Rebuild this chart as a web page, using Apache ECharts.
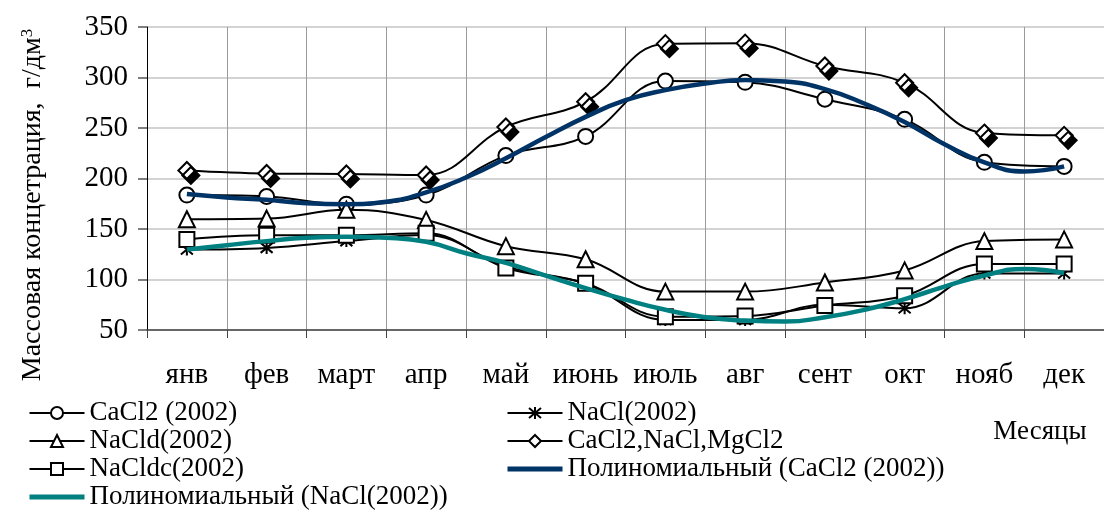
<!DOCTYPE html>
<html>
<head>
<meta charset="utf-8">
<script src="https://cdn.jsdelivr.net/npm/echarts@6/dist/echarts.min.js"></script>
<style>
html,body{margin:0;padding:0;background:#fff;}
#chart{width:1104px;height:512px;}
</style>
</head>
<body>
<div id="chart"></div>
<script>
// ---- data ----
const months = ['янв','фев','март','апр','май','июнь','июль','авг','сент','окт','нояб','дек'];
const yTicks = [50, 100, 150, 200, 250, 300, 350];

const cacl2_2002 = [183.6, 182.2, 174.6, 183.6, 222.7, 241.7, 296.5, 295.2, 278.5, 258.6, 216, 212];
const nacl_2002 = [129.7, 131.3, 138, 144, 113, 96, 60, 60, 75, 71.5, 106, 106];
const nacld_2002 = [159.6, 160.3, 169, 159, 133, 120, 88, 88, 97, 109, 138, 139.7];
const mixed = [208, 205, 204.5, 203.5, 251, 276, 333.5, 334, 311.4, 294.8, 245, 242.7];
const nacldc_2002 = [139.7, 143.7, 143.7, 145.7, 111.4, 96.4, 63.2, 63.9, 74.2, 83.9, 115.4, 115.4];

// trend lines read at half-month steps (position in months, value)
const trendPos = [0,0.5,1,1.5,2,2.5,3,3.5,4,4.5,5,5.5,6,6.5,7,7.5,8,8.5,9,9.5,10,10.5,11];
const trendCaCl2 = [184.6,181.2,178.9,175.6,174.6,177,186.2,201,220,241,261,277.5,287.5,294,297.5,296,288.5,274,256,234,216,207,212];
const trendNaCl = [129.7,134,138,141.3,142.3,141.3,137.3,126,116.4,103.8,91.4,80,70,62.6,59.3,58.3,62.6,70,80.5,93,104,110.4,106.4];

const names = {
  cacl2: 'CaCl2 (2002)',
  nacl: 'NaCl(2002)',
  nacld: 'NaCld(2002)',
  mixed: 'CaCl2,NaCl,MgCl2',
  nacldc: 'NaCldc(2002)',
  polyCa: 'Полиномиальный (CaCl2 (2002))',
  polyNa: 'Полиномиальный (NaCl(2002))'
};

const FONT = '"Liberation Serif", "Times New Roman", serif';
const chart = echarts.init(document.getElementById('chart'), null, {renderer: 'canvas'});

function pairs(xs, ys) { return xs.map((x, i) => [x, ys[i]]); }

const starPath = 'path://M0,0L10,10M10,0L0,10M5,-1L5,11';
const hiddenSymbol = {color: 'rgba(0,0,0,0)', borderColor: 'rgba(0,0,0,0)', borderWidth: 0, opacity: 0};

function dataSeries(name, data, symbol, size, extra) {
  return Object.assign({
    name: name,
    type: 'line',
    data: data,
    smooth: 0.4,
    symbol: symbol,
    symbolSize: size,
    showAllSymbol: true,
    lineStyle: {color: '#000', width: 2},
    itemStyle: {color: '#fff', borderColor: '#000', borderWidth: 2},
    z: 3
  }, extra || {});
}

const legendText = {color: '#000', fontSize: 27, fontFamily: FONT, lineHeight: 28};

const option = {
  animation: false,
  backgroundColor: '#fff',
  textStyle: {fontFamily: FONT},
  grid: {left: 147, top: 27, width: 960, height: 303, containLabel: false},
  xAxis: [{
    type: 'category',
    data: months,
    boundaryGap: true,
    axisLine: {show: true, onZero: false, lineStyle: {color: '#444', width: 1.5}},
    axisTick: {show: true, length: 8, lineStyle: {color: '#444', width: 1}},
    axisLabel: {color: '#000', fontSize: 29, fontFamily: FONT, margin: 31, interval: 0},
    splitLine: {show: true, lineStyle: {color: '#9a9a9a', width: 1}}
  }, {
    type: 'value',
    min: -0.5,
    max: 11.5,
    show: false,
    axisLine: {onZero: false},
    splitLine: {show: false}
  }],
  yAxis: {
    type: 'value',
    min: yTicks[0],
    max: yTicks[yTicks.length - 1],
    interval: 50,
    axisLine: {show: true, onZero: false, lineStyle: {color: '#000', width: 1}},
    axisTick: {show: true, length: 9, lineStyle: {color: '#555', width: 1.5}},
    axisLabel: {color: '#000', fontSize: 29, fontFamily: FONT, margin: 19},
    splitLine: {show: true, lineStyle: {color: '#c4c4c4', width: 1.5}}
  },
  legend: [{
    orient: 'vertical',
    left: 27,
    top: 399,
    padding: 0,
    itemGap: 0,
    itemWidth: 55,
    itemHeight: 15,
    textStyle: legendText,
    data: [
      {name: names.cacl2},
      {name: names.nacld},
      {name: names.nacldc},
      {name: names.polyNa, itemStyle: hiddenSymbol, lineStyle: {width: 5}}
    ]
  }, {
    orient: 'vertical',
    left: 505,
    top: 399,
    padding: 0,
    itemGap: 0,
    itemWidth: 55,
    itemHeight: 15,
    textStyle: legendText,
    data: [
      {name: names.nacl},
      {name: names.mixed, itemStyle: {shadowColor: 'rgba(0,0,0,0)', shadowOffsetX: 0, shadowOffsetY: 0}},
      {name: names.polyCa, itemStyle: hiddenSymbol, lineStyle: {width: 5}}
    ]
  }],
  graphic: [{
    type: 'text',
    x: 33,
    y: 205,
    rotation: Math.PI / 2,
    style: {
      text: '{a|Массовая концетрация,  г/дм}{s|3}',
      textAlign: 'center',
      textVerticalAlign: 'middle',
      fill: '#000',
      rich: {
        a: {fontSize: 28, fontFamily: FONT, fill: '#000', verticalAlign: 'bottom'},
        s: {fontSize: 17, fontFamily: FONT, fill: '#000', verticalAlign: 'top'}
      }
    }
  }, {
    type: 'text',
    x: 1040,
    y: 432,
    style: {
      text: 'Месяцы',
      textAlign: 'center',
      textVerticalAlign: 'middle',
      fill: '#000',
      fontSize: 27,
      fontFamily: FONT
    }
  }],
  series: [
    dataSeries(names.cacl2, cacl2_2002, 'circle', 15),
    dataSeries(names.nacl, nacl_2002, starPath, 12, {
      itemStyle: {color: 'rgba(0,0,0,0)', borderColor: '#000', borderWidth: 2}
    }),
    dataSeries(names.nacld, nacld_2002, 'triangle', 16),
    dataSeries(names.mixed, mixed, 'diamond', 17, {
      itemStyle: {color: '#fff', borderColor: '#000', borderWidth: 2,
        shadowColor: '#000', shadowBlur: 0, shadowOffsetX: 4, shadowOffsetY: 5}
    }),
    dataSeries(names.nacldc, nacldc_2002, 'rect', 15),
    {
      name: names.polyCa,
      type: 'line',
      xAxisIndex: 1,
      data: pairs(trendPos, trendCaCl2),
      smooth: 0.5,
      symbol: 'none',
      lineStyle: {color: '#003366', width: 4.5},
      itemStyle: {color: '#003366'},
      z: 5
    },
    {
      name: names.polyNa,
      type: 'line',
      xAxisIndex: 1,
      data: pairs(trendPos, trendNaCl),
      smooth: 0.5,
      symbol: 'none',
      lineStyle: {color: '#008080', width: 4.5},
      itemStyle: {color: '#008080'},
      z: 5
    }
  ]
};

chart.setOption(option);
</script>
</body>
</html>
